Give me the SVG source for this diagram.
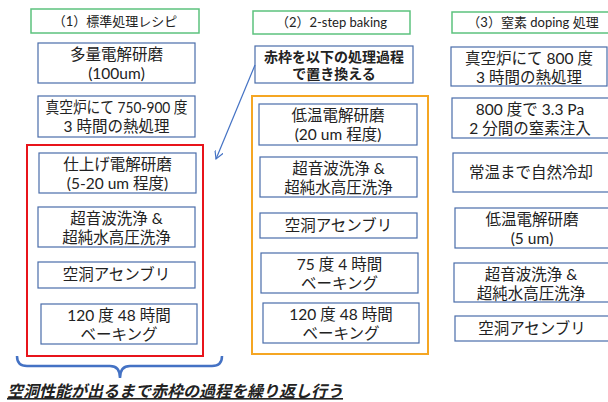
<svg xmlns="http://www.w3.org/2000/svg" width="608" height="402" viewBox="0 0 608 402">
<defs>
<style>
text{font-family:Lato,"Noto Sans CJK JP","Noto Sans",sans-serif;fill:#222;text-anchor:middle}
.b{fill:#fff;stroke:#4A6DAA;stroke-width:1.2}
.h{fill:#fff;stroke:#5CC27E;stroke-width:1.5}
.t{font-size:15.5px}
.ht{font-size:13px}
.bt{font-size:14px;font-weight:bold}
.conn{fill:none;stroke:#4472C4;stroke-width:1.2}
</style>
<marker id="arr" viewBox="0 0 10 10" refX="9" refY="5" markerWidth="9" markerHeight="9" orient="auto" markerUnits="userSpaceOnUse">
<path d="M0,0 L9,5 L0,10" fill="none" stroke="#4472C4" stroke-width="1.3"/>
</marker>
</defs>
<rect width="608" height="402" fill="#fff"/>

<!-- frames -->
<rect id="red-frame" x="27" y="145" width="176" height="211" fill="none" stroke="#E8141B" stroke-width="2"/>
<rect id="orange-frame" x="252" y="96" width="176" height="258" fill="none" stroke="#F5A623" stroke-width="2"/>

<!-- left column -->
<g id="h1"><rect class="h" x="31" y="9" width="168" height="24"/><text class="ht" x="115" y="26">（1）標準処理レシピ</text></g>
<g id="l1"><rect class="b" x="38" y="43" width="157" height="40"/><text class="t"><tspan x="116.5" y="60">多量電解研磨</tspan><tspan x="116.5" dy="19">(100um)</tspan></text></g>
<g id="l2"><rect class="b" x="38" y="96" width="157" height="41"/><text class="t"><tspan x="116.5" y="113" textLength="142" lengthAdjust="spacingAndGlyphs">真空炉にて 750-900 度</tspan><tspan x="116.5" dy="19">3 時間の熱処理</tspan></text></g>
<g id="l3"><rect class="b" x="39" y="153" width="157" height="40"/><text class="t"><tspan x="117.5" y="170">仕上げ電解研磨</tspan><tspan x="117.5" dy="19">(5-20 um 程度)</tspan></text></g>
<g id="l4"><rect class="b" x="38" y="207" width="157" height="40"/><text class="t"><tspan x="116.5" y="224">超音波洗浄 &amp;</tspan><tspan x="116.5" dy="19">超純水高圧洗浄</tspan></text></g>
<g id="l5"><rect class="b" x="38" y="262" width="157" height="26"/><text class="t" x="116.5" y="280">空洞アセンブリ</text></g>
<g id="l6"><rect class="b" x="41" y="304" width="156" height="40"/><text class="t"><tspan x="119" y="321">120 度 48 時間</tspan><tspan x="119" dy="19">ベーキング</tspan></text></g>

<!-- middle column -->
<g id="h2"><rect class="h" x="253" y="11" width="157" height="23"/><text class="ht" x="331.5" y="27">（2）2-step baking</text></g>
<g id="m0"><rect class="b" x="255" y="46" width="158" height="37"/><text class="bt"><tspan x="334" y="62">赤枠を以下の処理過程</tspan><tspan x="334" dy="17">で置き換える</tspan></text></g>
<g id="m1"><rect class="b" x="259" y="104" width="158" height="41"/><text class="t"><tspan x="338" y="121">低温電解研磨</tspan><tspan x="338" dy="19">(20 um 程度)</tspan></text></g>
<g id="m2"><rect class="b" x="260" y="157" width="157" height="40"/><text class="t"><tspan x="338.5" y="174">超音波洗浄 &amp;</tspan><tspan x="338.5" dy="19">超純水高圧洗浄</tspan></text></g>
<g id="m3"><rect class="b" x="260" y="213" width="157" height="25"/><text class="t" x="338.5" y="231">空洞アセンブリ</text></g>
<g id="m4"><rect class="b" x="261" y="253" width="157" height="40"/><text class="t"><tspan x="339.5" y="270">75 度 4 時間</tspan><tspan x="339.5" dy="19">ベーキング</tspan></text></g>
<g id="m5"><rect class="b" x="263" y="303" width="156" height="40"/><text class="t"><tspan x="341" y="320">120 度 48 時間</tspan><tspan x="341" dy="19">ベーキング</tspan></text></g>

<!-- right column -->
<g id="h3"><rect class="h" x="452" y="12" width="170" height="21"/><text class="ht" x="533" y="27">（3）窒素 doping 処理</text></g>
<g id="r1"><rect class="b" x="451" y="47" width="156" height="39"/><text class="t"><tspan x="529" y="64">真空炉にて 800 度</tspan><tspan x="529" dy="19">3 時間の熱処理</tspan></text></g>
<g id="r2"><rect class="b" x="452" y="98" width="157" height="40"/><text class="t"><tspan x="530" y="115">800 度で 3.3 Pa</tspan><tspan x="530" dy="19">2 分間の窒素注入</tspan></text></g>
<g id="r3"><rect class="b" x="453" y="153" width="157" height="39"/><text class="t" x="531" y="178">常温まで自然冷却</text></g>
<g id="r4"><rect class="b" x="455" y="208" width="156" height="40"/><text class="t"><tspan x="532" y="225">低温電解研磨</tspan><tspan x="532" dy="19">(5 um)</tspan></text></g>
<g id="r5"><rect class="b" x="454" y="263" width="156" height="39"/><text class="t"><tspan x="531" y="280">超音波洗浄 &amp;</tspan><tspan x="531" dy="19">超純水高圧洗浄</tspan></text></g>
<g id="r6"><rect class="b" x="455" y="316" width="156" height="25"/><text class="t" x="532" y="334">空洞アセンブリ</text></g>

<!-- connectors -->
<g id="connectors">
<path class="conn" d="M255,65 L216,159" marker-end="url(#arr)"/>
<path d="M17,356 Q17,366 27,366 L110,366 Q120,366 120,378 Q120,366 130,366 L212,366 Q222,366 222,356" fill="none" stroke="#4472C4" stroke-width="2.5"/>
</g>

<g id="note"><text x="7" y="397" style="font-size:16px;font-weight:bold;font-style:italic;text-anchor:start;text-decoration:underline">空洞性能が出るまで赤枠の過程を繰り返し行う</text></g>
</svg>
